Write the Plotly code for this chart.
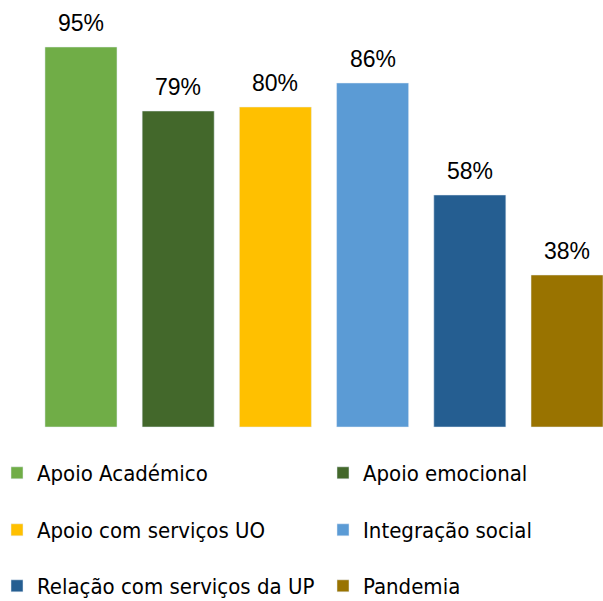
import plotly.graph_objects as go

categories = ["Apoio Académico", "Apoio emocional", "Apoio com serviços UO",
              "Integração social", "Relação com serviços da UP", "Pandemia"]
values = [95, 79, 80, 86, 58, 38]
colors = ["#70AD47", "#43682B", "#FFC000", "#5B9BD5", "#255E91", "#997300"]
legend_ids = ["legend", "legend2", "legend3", "legend4", "legend5", "legend6"]

W, H = 603, 601
label_font = dict(family="Liberation Sans, Arial, sans-serif", size=23, color="#000000")
legend_font = dict(family="DejaVu Sans Condensed, sans-serif", size=22, color="#000000")

fig = go.Figure()
for cat, val, col, lg in zip(categories, values, colors, legend_ids):
    fig.add_trace(go.Bar(
        x=[cat], y=[val], name=cat, marker_color=col, width=0.741,
        legend=lg, showlegend=True, hoverinfo="skip",
    ))
    fig.add_annotation(x=cat, y=val, text=f"{val}%", showarrow=False,
                       yanchor="bottom", yshift=9, font=label_font)

# legend layout: two columns, three rows (pixel positions)
col_px = [-3, 323]
row_px = [473, 530, 586]
legend_layout = {}
for i, lg in enumerate(legend_ids):
    cx = col_px[i % 2]
    cy = row_px[i // 2]
    legend_layout[lg] = dict(
        orientation="h", font=legend_font, bgcolor="rgba(0,0,0,0)",
        xanchor="left", yanchor="middle",
        x=cx / W, y=1 - cy / H, itemclick=False, itemdoubleclick=False,
    )

fig.update_layout(
    width=W, height=H,
    margin=dict(l=0, r=0, t=0, b=0, pad=0, autoexpand=False),
    paper_bgcolor="white", plot_bgcolor="white",
    barmode="overlay",
    xaxis=dict(range=[-0.833, 5.370], showticklabels=False, showgrid=False,
               zeroline=False, showline=False, ticks="", fixedrange=True),
    yaxis=dict(range=[-43.5, 106.75], showticklabels=False, showgrid=False,
               zeroline=False, showline=False, ticks="", fixedrange=True),
    **legend_layout,
)
fig.write_html("out.html", config={"displayModeBar": False},
               post_script="document.body.style.margin='0';document.body.style.overflow='hidden';")
